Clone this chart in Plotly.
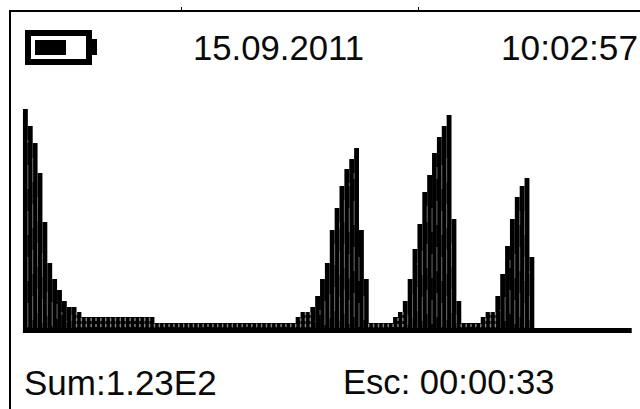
import plotly.graph_objects as go

W, H = 640, 409
L, T = 11, 12

tail = [224, 207, 190, 160, 111, 70, 54, 43, 32, 26, 26, 21,
        16, 16, 16, 16, 16, 16, 16, 16, 16, 16, 16, 16, 16, 16, 16]
floor = [10, 10, 10, 10, 10, 10, 10, 10, 10, 10, 10, 10, 10, 10,
         10, 10, 10, 10, 10, 10, 10, 10, 10, 10, 10, 10, 10, 10]
peak1 = [10, 16, 21, 21, 26, 37, 54, 70, 103, 125, 147, 164, 174, 185, 103, 54]
gap1 = [10, 10, 10, 10, 10]
peak2 = [16, 21, 32, 54, 84, 109, 141, 158, 180, 196, 207, 218, 114, 32]
gap2 = [10, 10, 10, 10]
peak3 = [16, 21, 21, 37, 59, 87, 114, 136, 147, 155, 76]
values = tail + floor + peak1 + gap1 + peak2 + gap2 + peak3
baseline_x = [-0.5, 124.5]
baseline_y = [2.5, 2.5]
top_ticks = [31.95, 80.8]

X0, STEP = 25.4, 4.87
BASE_Y = 333


def px(x):
    return (x - L) / (W - L)


def py(y):
    return 1 - (y - T) / (H - T)


# texture: grey slivers on the boundaries between neighbouring bars
tall_x, tall_y, low_x, low_y = [], [], [], []
for i in range(len(values) - 1):
    h = min(values[i], values[i + 1])
    if h >= 26:
        start = 6 + (i * 7) % 17
        tall_x += [i + 0.5, i + 0.5, None]
        tall_y += [start, h - 14, None]
    elif h >= 10:
        low_x += [i + 0.5, i + 0.5, None]
        low_y += [6, h, None]

fig = go.Figure()
fig.add_bar(x=list(range(len(values))), y=values, width=1.0,
            marker=dict(color="#000000", line=dict(width=0)))
fig.add_scatter(x=tall_x, y=tall_y, mode="lines",
                line=dict(color="#666666", width=1, dash="24px,22px"))
fig.add_scatter(x=low_x, y=low_y, mode="lines",
                line=dict(color="#808080", width=1.5, dash="3px,3px"))
fig.add_scatter(x=baseline_x, y=baseline_y, mode="lines",
                line=dict(color="#000000", width=5))

shapes = [
    dict(type="rect", xref="paper", yref="paper", x0=px(28), x1=px(89), y0=py(33), y1=py(62),
         line=dict(color="#000000", width=6), fillcolor="#ffffff"),
    dict(type="rect", xref="paper", yref="paper", x0=px(35), x1=px(66), y0=py(40), y1=py(55),
         line=dict(width=0), fillcolor="#000000"),
    dict(type="rect", xref="paper", yref="paper", x0=px(91), x1=px(97), y0=py(39), y1=py(55),
         line=dict(width=0), fillcolor="#000000"),
]

texts = [
    ("15.09.2011", 278.5, 48, 34.7),
    ("10:02:57", 569, 48, 35.2),
    ("Sum:1.23E2", 120, 382, 35),
    ("Esc: 00:00:33", 448, 382, 34.6),
]
annotations = [
    dict(text=t, xref="paper", yref="paper", x=px(x), y=py(y), showarrow=False,
         xanchor="center", yanchor="middle", font=dict(size=s, color="#0a0a0a"))
    for t, x, y, s in texts
]

fig.update_layout(
    width=W, height=H, margin=dict(l=L, r=0, t=T, b=0), autosize=False,
    paper_bgcolor="#ffffff", plot_bgcolor="#ffffff", showlegend=False,
    font=dict(family="Liberation Sans"), shapes=shapes, annotations=annotations,
    xaxis=dict(range=[(L - X0) / STEP, (W - X0) / STEP], side="top", showgrid=False, zeroline=False,
               showline=True, linecolor="#000000", linewidth=2,
               ticks="outside", ticklen=3, tickcolor="#000000", tickwidth=1,
               tickvals=top_ticks, showticklabels=False),
    yaxis=dict(range=[BASE_Y - H, BASE_Y - T], showgrid=False, zeroline=False,
               showline=True, linecolor="#000000", linewidth=2, showticklabels=False, ticks=""),
)
fig.write_html("out.html", config=dict(displayModeBar=False),
               post_script="document.body.style.margin='0';document.body.style.overflow='hidden';")
